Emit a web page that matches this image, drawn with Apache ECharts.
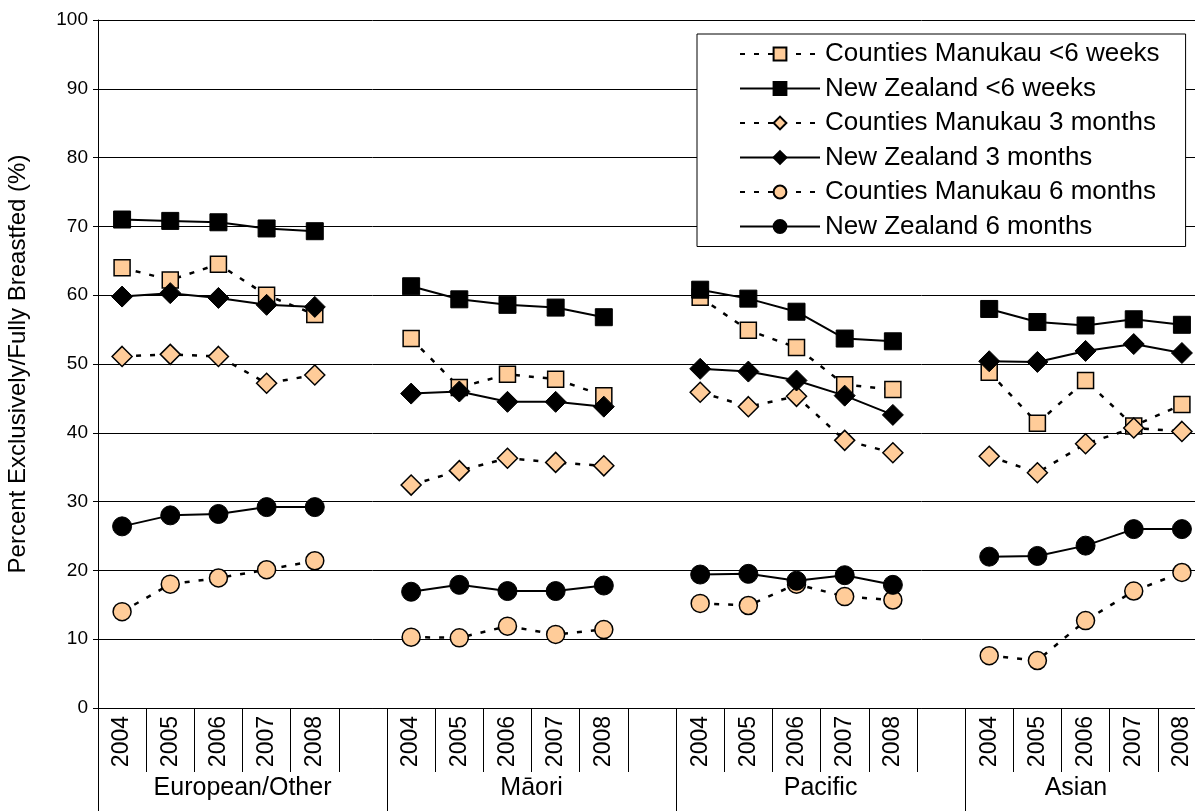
<!DOCTYPE html>
<html>
<head>
<meta charset="utf-8">
<script src="https://cdn.jsdelivr.net/npm/echarts@6/dist/echarts.min.js"></script>
<style>
  html, body { margin: 0; padding: 0; background: #fff; }
  #chart { width: 1195px; height: 811px; }
</style>
</head>
<body>
<div id="chart"></div>
<script>
// categories
const years = ['2004', '2005', '2006', '2007', '2008'];
const groups = ['European/Other', 'Māori', 'Pacific', 'Asian'];

// values per ethnic group: European/Other, Māori, Pacific, Asian
const cmWeeks = [
  [64.0, 62.2, 64.5, 60.0, 57.2],
  [53.7, 46.6, 48.5, 47.8, 45.4],
  [59.7, 54.9, 52.4, 47.0, 46.3],
  [48.8, 41.4, 47.6, 41.0, 44.1],
];
const nzWeeks = [
  [71.0, 70.8, 70.6, 69.7, 69.3],
  [61.3, 59.4, 58.6, 58.2, 56.8],
  [60.8, 59.5, 57.6, 53.7, 53.3],
  [58.0, 56.1, 55.6, 56.5, 55.7],
];
const cm3m = [
  [51.1, 51.4, 51.1, 47.2, 48.4],
  [32.4, 34.5, 36.3, 35.7, 35.2],
  [45.9, 43.8, 45.3, 38.9, 37.1],
  [36.6, 34.2, 38.4, 40.7, 40.2],
];
const nz3m = [
  [59.8, 60.3, 59.6, 58.6, 58.3],
  [45.7, 46.0, 44.5, 44.5, 43.8],
  [49.3, 48.9, 47.6, 45.4, 42.6],
  [50.4, 50.3, 51.9, 52.9, 51.6],
];
const cm6m = [
  [14.0, 18.0, 18.9, 20.1, 21.4],
  [10.3, 10.2, 11.9, 10.7, 11.4],
  [15.2, 14.9, 18.0, 16.2, 15.7],
  [7.6, 6.9, 12.7, 17.0, 19.7],
];
const nz6m = [
  [26.4, 28.0, 28.2, 29.2, 29.2],
  [16.9, 17.9, 17.0, 17.0, 17.8],
  [19.4, 19.5, 18.5, 19.3, 17.9],
  [22.0, 22.1, 23.6, 26.0, 26.0],
];

// one empty slot between the groups
function joinGroups(parts, gap) {
  const out = [];
  parts.forEach((p, i) => {
    out.push(...p);
    if (i < parts.length - 1) out.push(gap);
  });
  return out;
}

const cats = joinGroups(groups.map(() => years), '');
const groupEdges = [0, 6, 12, 18];
const groupCenters = [3, 9, 15, 20.3];

const font = 'Liberation Sans, Arial, sans-serif';
const peach = '#FFCC99';

function makeSeries(name, values, symbol, size, dashed) {
  return {
    name: name,
    type: 'line',
    data: joinGroups(values, null),
    symbol: symbol,
    symbolSize: size,
    connectNulls: false,
    lineStyle: {
      color: '#000',
      width: dashed ? 2.5 : 2,
      type: dashed ? [5, 9] : 'solid',
    },
    itemStyle: {
      color: dashed ? peach : '#000',
      borderColor: '#000',
      borderWidth: dashed ? 1.5 : 1,
    },
    emphasis: { disabled: true },
  };
}

const chart = echarts.init(document.getElementById('chart'));
chart.setOption({
  animation: false,
  backgroundColor: '#fff',
  textStyle: { fontFamily: font, color: '#000' },
  // plot runs past the right edge of the picture, as in the original crop
  grid: { left: 98, width: 1108, top: 20, bottom: 103, outerBoundsMode: 'none' },
  legend: {
    orient: 'vertical',
    left: 697,
    top: 34,
    backgroundColor: '#fff',
    borderColor: '#000',
    borderWidth: 1,
    padding: [7, 26, 7, 42],
    itemWidth: 80,
    itemHeight: 16,
    itemGap: 8.5,
    textStyle: { fontSize: 26, color: '#000', fontFamily: font },
    data: [
      'Counties Manukau <6 weeks',
      'New Zealand <6 weeks',
      'Counties Manukau 3 months',
      'New Zealand 3 months',
      'Counties Manukau 6 months',
      'New Zealand 6 months',
    ],
  },
  xAxis: [
    {
      type: 'category',
      data: cats,
      boundaryGap: true,
      position: 'bottom',
      axisLine: { show: true, lineStyle: { color: '#000', width: 1 } },
      axisTick: { show: true, interval: 0, length: 64, lineStyle: { color: '#000' } },
      axisLabel: { interval: 0, rotate: 90, fontSize: 23, margin: 8, color: '#000' },
      splitLine: { show: false },
    },
    {
      type: 'value',
      min: 0,
      max: 23,
      position: 'bottom',
      axisLine: { show: false },
      axisTick: { show: true, customValues: groupEdges, length: 103, lineStyle: { color: '#000' } },
      axisLabel: {
        customValues: groupCenters,
        formatter: (v) => groups[groupCenters.indexOf(v)] || '',
        fontSize: 25,
        margin: 68,
        color: '#000',
      },
      splitLine: { show: false },
    },
  ],
  yAxis: {
    type: 'value',
    min: 0,
    max: 100,
    interval: 10,
    name: 'Percent Exclusively/Fully Breastfed (%)',
    nameLocation: 'middle',
    nameGap: 68,
    nameTextStyle: { fontSize: 24, color: '#000' },
    axisLine: { show: true, lineStyle: { color: '#000', width: 1 } },
    axisTick: { show: true, length: 5, lineStyle: { color: '#000' } },
    axisLabel: { fontSize: 19, margin: 10, color: '#000' },
    splitLine: { show: true, lineStyle: { color: '#000', width: 1 } },
  },
  series: [
    makeSeries('Counties Manukau <6 weeks', cmWeeks, 'rect', 16, true),
    makeSeries('New Zealand <6 weeks', nzWeeks, 'rect', 17, false),
    makeSeries('Counties Manukau 3 months', cm3m, 'diamond', 20, true),
    makeSeries('New Zealand 3 months', nz3m, 'diamond', 21, false),
    makeSeries('Counties Manukau 6 months', cm6m, 'circle', 18, true),
    makeSeries('New Zealand 6 months', nz6m, 'circle', 19, false),
  ],
});
</script>
</body>
</html>
